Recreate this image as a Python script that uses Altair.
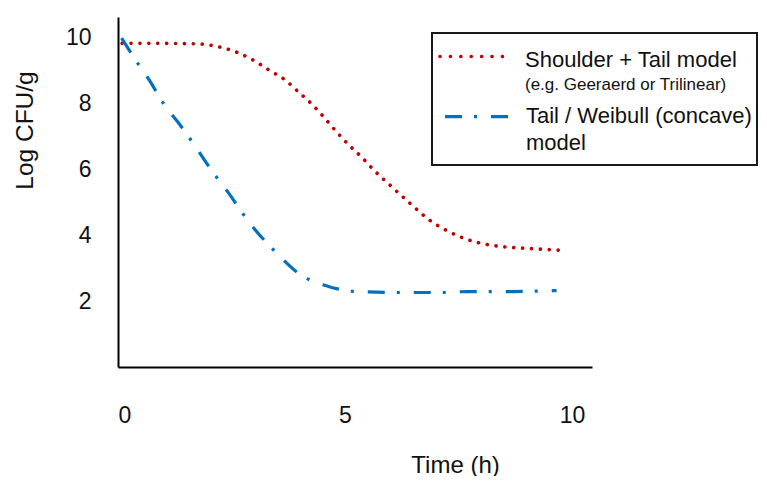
import altair as alt
import pandas as pd

# ---- data ----
red_x = [0.09, 0.93, 1.81, 2.20, 2.58, 2.94, 3.35, 3.68, 3.99, 4.29, 4.56, 4.83,
         5.09, 5.38, 5.66, 5.95, 6.43, 6.87, 7.31, 7.91, 8.41, 9.01, 9.78]
red_y = [9.82, 9.82, 9.80, 9.72, 9.57, 9.34, 8.99, 8.71, 8.33, 7.95, 7.54, 7.11,
         6.73, 6.35, 5.94, 5.57, 4.97, 4.45, 4.09, 3.78, 3.66, 3.60, 3.54]
blue_x = [0.08, 0.40, 0.70, 1.00, 1.38, 1.71, 2.06, 2.43, 2.91, 3.42, 4.01, 4.67,
          5.26, 6.21, 7.17, 7.68, 8.19, 8.70, 9.66]
blue_y = [9.98, 9.29, 8.68, 8.00, 7.32, 6.68, 5.97, 5.29, 4.35, 3.56, 2.81, 2.43,
          2.29, 2.26, 2.26, 2.29, 2.29, 2.29, 2.32]

x_ticks = [0, 5, 10]
y_ticks = [2, 4, 6, 8, 10]
legend_main = ["Shoulder + Tail model", "Tail / Weibull (concave)\nmodel"]
legend_note = ["(e.g. Geeraerd or Trilinear)"]

RED = "#C00000"
BLUE = "#0070C0"
TXT = "#111111"
FONT = "Liberation Sans"

red_df = pd.DataFrame({"t": red_x, "v": red_y})
blue_df = pd.DataFrame({"t": blue_x, "v": blue_y})

xs = alt.Scale(domain=[0, 10.44], nice=False, zero=False)
ys = alt.Scale(domain=[0, 10.62], nice=False, zero=False)

x_axis = alt.Axis(values=x_ticks, ticks=False, grid=False, labelPadding=37,
                  labelFontSize=23, labelFont=FONT, labelColor=TXT,
                  domainColor="#000000", domainWidth=2,
                  title="Time (h)", titleFont=FONT, titleFontSize=24,
                  titleFontWeight="normal", titleColor=TXT,
                  titleX=337, titleY=105, titleAlign="center",
                  titleBaseline="alphabetic")
y_axis = alt.Axis(values=y_ticks, ticks=False, grid=False, labelPadding=27,
                  labelFontSize=23, labelFont=FONT, labelColor=TXT,
                  domainColor="#000000", domainWidth=2,
                  title="Log CFU/g", titleFont=FONT, titleFontSize=24.5,
                  titleFontWeight="normal", titleColor=TXT, titleAngle=270,
                  titleX=-86, titleY=113, titleAlign="center",
                  titleBaseline="alphabetic")

red_line = alt.Chart(red_df).mark_line(
    color=RED, strokeWidth=3.6, strokeDash=[0.1, 8.8], strokeCap="round",
    interpolate="monotone"
).encode(x=alt.X("t:Q", scale=xs, axis=x_axis), y=alt.Y("v:Q", scale=ys, axis=y_axis))

blue_line = alt.Chart(blue_df).mark_line(
    color=BLUE, strokeWidth=3.2, strokeDash=[17, 12, 3, 14], strokeCap="butt",
    interpolate="monotone"
).encode(x=alt.X("t:Q", scale=xs), y=alt.Y("v:Q", scale=ys))

one = pd.DataFrame({"k": [0]})

box = alt.Chart(one).mark_rect(fill="white", stroke="#1a1a1a", strokeWidth=2).encode(
    x=alt.value(314), x2=alt.value(639), y=alt.value(16), y2=alt.value(148))

red_sym = alt.Chart(one).mark_rule(color=RED, strokeWidth=3.6, strokeDash=[0.1, 10.3],
                                   strokeCap="round").encode(
    x=alt.value(322), x2=alt.value(385), y=alt.value(39.5))
blue_sym = alt.Chart(one).mark_rule(color=BLUE, strokeWidth=3.2, strokeDash=[17, 12, 3, 14],
                                    strokeCap="butt").encode(
    x=alt.value(327), x2=alt.value(391), y=alt.value(99.7))

t1 = alt.Chart(pd.DataFrame({"s": [legend_main[0]]})).mark_text(
    align="left", baseline="alphabetic", fontSize=22, font=FONT, color=TXT).encode(
    x=alt.value(407), y=alt.value(49.7), text="s:N")
t2 = alt.Chart(pd.DataFrame({"s": legend_note})).mark_text(
    align="left", baseline="alphabetic", fontSize=17, font=FONT, color=TXT).encode(
    x=alt.value(407), y=alt.value(72.5), text="s:N")
t3 = alt.Chart(pd.DataFrame({"s": [legend_main[1]]})).mark_text(
    align="left", baseline="alphabetic", fontSize=22, font=FONT, color=TXT,
    lineBreak="\n", lineHeight=27).encode(
    x=alt.value(408), y=alt.value(106.3), text="s:N")

chart = alt.layer(red_line, blue_line, box, red_sym, blue_sym, t1, t2, t3).properties(
    width=474, height=350,
    autosize=alt.AutoSizeParams(type="none"),
    padding={"left": 110, "top": 9, "right": 167, "bottom": 109},
    background="white",
).configure_view(stroke=None)

chart.save("out.html", embed_options={"renderer": "svg", "actions": False})
